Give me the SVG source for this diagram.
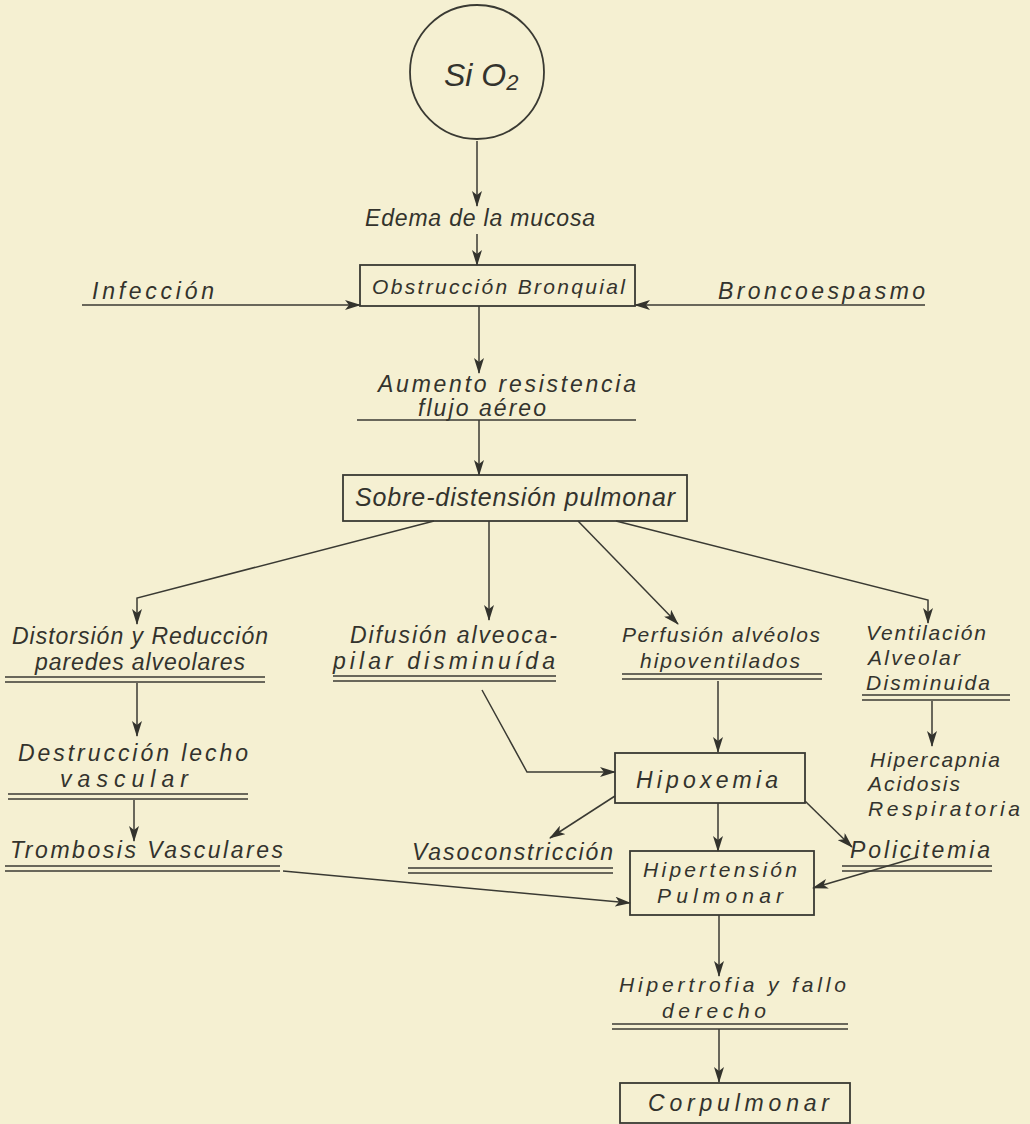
<svg xmlns="http://www.w3.org/2000/svg" width="1030" height="1124" viewBox="0 0 1030 1124">
<defs>
<style>
.t{font-family:"Liberation Sans","DejaVu Sans",sans-serif;font-style:italic;font-size:23px;fill:#33332d}
.s{font-size:21px}
.b{fill:none;stroke:#3a3a33;stroke-width:1.8}
.c{fill:none;stroke:#3a3a33;stroke-width:1.5}
.u{stroke:#3a3a33;stroke-width:1.6}
</style>
<marker id="ah" viewBox="0 0 16 10" refX="15" refY="5" markerWidth="16" markerHeight="10" markerUnits="userSpaceOnUse" orient="auto">
<path d="M0,0 L16,5 L0,10 L4,5 z" fill="#33332d"/>
</marker>
</defs>
<rect width="1030" height="1124" fill="#f5f0d2"/>

<g id="connectors" class="c">
<line x1="477" y1="141" x2="477" y2="206" marker-end="url(#ah)"/>
<line x1="477" y1="234" x2="477" y2="265" marker-end="url(#ah)"/>
<line x1="82" y1="305" x2="360" y2="305" marker-end="url(#ah)"/>
<line x1="925" y1="305" x2="635" y2="305" marker-end="url(#ah)"/>
<line x1="479" y1="306" x2="479" y2="373" marker-end="url(#ah)"/>
<line x1="479" y1="420" x2="479" y2="475" marker-end="url(#ah)"/>
<polyline points="434,521 137,598 137,624" marker-end="url(#ah)"/>
<line x1="489" y1="521" x2="489" y2="620" marker-end="url(#ah)"/>
<line x1="578" y1="521" x2="678" y2="624" marker-end="url(#ah)"/>
<polyline points="616,521 928,600 928,623" marker-end="url(#ah)"/>
<polyline points="482,690 527,772 615,772" marker-end="url(#ah)"/>
<line x1="718" y1="681" x2="718" y2="752" marker-end="url(#ah)"/>
<line x1="932" y1="701" x2="932" y2="746" marker-end="url(#ah)"/>
<line x1="137" y1="683" x2="137" y2="736" marker-end="url(#ah)"/>
<line x1="134" y1="800" x2="134" y2="841" marker-end="url(#ah)"/>
<line x1="283" y1="871" x2="630" y2="903" marker-end="url(#ah)"/>
<line x1="615" y1="796" x2="550" y2="838" marker-end="url(#ah)"/>
<line x1="718" y1="803" x2="718" y2="851" marker-end="url(#ah)"/>
<line x1="805" y1="801" x2="852" y2="847" marker-end="url(#ah)"/>
<line x1="918" y1="857" x2="813" y2="888" marker-end="url(#ah)"/>
<line x1="719" y1="915" x2="719" y2="976" marker-end="url(#ah)"/>
<line x1="719" y1="1029" x2="719" y2="1082" marker-end="url(#ah)"/>
</g>

<g id="sio2">
<circle cx="477" cy="72" r="67" class="b"/>
<text class="t" x="444" y="86" style="font-size:32px">Si O<tspan style="font-size:22px" dy="4">2</tspan></text>
</g>

<g id="edema">
<text class="t" x="365" y="226" textLength="230">Edema de la mucosa</text>
</g>

<g id="obstruccion">
<rect x="360" y="265" width="275" height="41" class="b"/>
<text class="t s" x="372" y="294" textLength="253">Obstrucción Bronquial</text>
</g>

<g id="infeccion">
<text class="t" x="92" y="299" textLength="122">Infección</text>
</g>

<g id="broncoespasmo">
<text class="t" x="718" y="299" textLength="207">Broncoespasmo</text>
</g>

<g id="aumento">
<text class="t" x="378" y="392" textLength="258">Aumento resistencia</text>
<text class="t" x="418" y="416" textLength="128">flujo aéreo</text>
<line x1="357" y1="420" x2="636" y2="420" class="u"/>
</g>

<g id="sobredistension">
<rect x="343" y="475" width="344" height="46" class="b"/>
<text class="t" x="355" y="506" style="font-size:25px" textLength="320">Sobre-distensión pulmonar</text>
</g>

<g id="distorsion">
<text class="t" x="12" y="644" textLength="256">Distorsión y Reducción</text>
<text class="t" x="35" y="670" textLength="210">paredes alveolares</text>
<line x1="5" y1="677" x2="265" y2="677" class="u"/>
<line x1="5" y1="682" x2="265" y2="682" class="u"/>
</g>

<g id="difusion">
<text class="t" x="350" y="643" textLength="207">Difusión alveoca-</text>
<text class="t" x="333" y="669" textLength="222">pilar disminuída</text>
<line x1="333" y1="676" x2="556" y2="676" class="u"/>
<line x1="333" y1="681" x2="556" y2="681" class="u"/>
</g>

<g id="perfusion">
<text class="t s" x="622" y="642" textLength="198">Perfusión alvéolos</text>
<text class="t s" x="640" y="668" textLength="160">hipoventilados</text>
<line x1="622" y1="674" x2="822" y2="674" class="u"/>
<line x1="622" y1="679" x2="822" y2="679" class="u"/>
</g>

<g id="ventilacion">
<text class="t s" x="866" y="640" textLength="120">Ventilación</text>
<text class="t s" x="868" y="665" textLength="92">Alveolar</text>
<text class="t s" x="866" y="690" textLength="124">Disminuida</text>
<line x1="862" y1="695" x2="1010" y2="695" class="u" stroke-width="2.2"/>
<line x1="862" y1="700" x2="1010" y2="700" class="u" stroke-width="2.2"/>
</g>

<g id="hipercapnia">
<text class="t s" x="870" y="767" textLength="130">Hipercapnia</text>
<text class="t s" x="868" y="791" textLength="92">Acidosis</text>
<text class="t s" x="868" y="816" textLength="152">Respiratoria</text>
</g>

<g id="destruccion">
<text class="t" x="18" y="761" textLength="230">Destrucción lecho</text>
<text class="t" x="60" y="787" textLength="128">vascular</text>
<line x1="8" y1="794" x2="248" y2="794" class="u"/>
<line x1="8" y1="799" x2="248" y2="799" class="u"/>
</g>

<g id="trombosis">
<text class="t" x="10" y="858" textLength="273">Trombosis Vasculares</text>
<line x1="5" y1="866" x2="280" y2="866" class="u"/>
<line x1="5" y1="871" x2="280" y2="871" class="u"/>
</g>

<g id="hipoxemia">
<rect x="615" y="753" width="190" height="50" class="b"/>
<text class="t" x="636" y="788" textLength="142">Hipoxemia</text>
</g>

<g id="vasoconstriccion">
<text class="t" x="412" y="860" textLength="201">Vasoconstricción</text>
<line x1="408" y1="868" x2="613" y2="868" class="u"/>
<line x1="408" y1="873" x2="613" y2="873" class="u"/>
</g>

<g id="policitemia">
<text class="t" x="850" y="858" textLength="140">Policitemia</text>
<line x1="842" y1="866" x2="992" y2="866" class="u"/>
<line x1="842" y1="871" x2="992" y2="871" class="u"/>
</g>

<g id="hipertension">
<rect x="630" y="851" width="184" height="64" class="b"/>
<text class="t s" x="643" y="877" textLength="154">Hipertensión</text>
<text class="t s" x="657" y="903" textLength="126">Pulmonar</text>
</g>

<g id="hipertrofia">
<text class="t s" x="619" y="992" textLength="227">Hipertrofia y fallo</text>
<text class="t s" x="662" y="1018" textLength="104">derecho</text>
<line x1="612" y1="1024" x2="848" y2="1024" class="u"/>
<line x1="612" y1="1029" x2="848" y2="1029" class="u"/>
</g>

<g id="corpulmonar">
<rect x="620" y="1083" width="230" height="40" class="b"/>
<text class="t" x="648" y="1111" textLength="181">Corpulmonar</text>
</g>
</svg>
